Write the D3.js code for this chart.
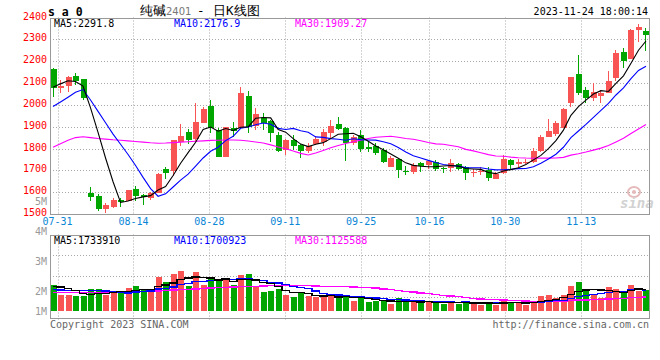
<!DOCTYPE html>
<html><head><meta charset="utf-8">
<script src="https://cdn.jsdelivr.net/npm/d3@7"></script>
<style>
html,body{margin:0;padding:0;background:#fff;}
svg{display:block;}
text{font-family:"DejaVu Sans Mono","Liberation Mono",monospace;}
</style></head><body>
<svg id="chart" width="660" height="360"></svg>
<script>
// ---------------- data ----------------
const dates = ["07-28","07-31",
 "08-01","08-02","08-03","08-04","08-07","08-08","08-09","08-10","08-11",
 "08-14","08-15","08-16","08-17","08-18","08-21","08-22","08-23","08-24","08-25",
 "08-28","08-29","08-30","08-31","09-01","09-04","09-05","09-06","09-07","09-08",
 "09-11","09-12","09-13","09-14","09-15","09-18","09-19","09-20","09-21","09-22",
 "09-25","09-26","09-27","09-28","10-09","10-10","10-11","10-12","10-13",
 "10-16","10-17","10-18","10-19","10-20","10-23","10-24","10-25","10-26","10-27",
 "10-30","10-31","11-01","11-02","11-03","11-06","11-07","11-08","11-09","11-10",
 "11-13","11-14","11-15","11-16","11-17","11-20","11-21","11-22","11-23","11-24"];
const open  = [2164,2079,2088,2132,2118,1597,1582,1524,1532,1562,1561,1615,1587,1572,1598,1704,1697,1829,1877,1842,
 1918,1995,1885,1762,1892,1892,2040,1903,1938,1925,1862,1793,1840,1815,1790,1821,1831,1870,1911,1892,
 1824,1862,1808,1811,1793,1717,1751,1697,1694,1735,1724,1740,1712,1709,1729,1714,1689,1691,1702,1660,
 1686,1747,1729,1732,1740,1790,1854,1868,1896,2008,2140,2068,2033,2042,2056,2124,2243,2210,2345,2338];
const high  = [2170,2114,2132,2146,2120,1625,1590,1550,1572,1572,1612,1628,1590,1602,1689,1717,1840,1913,1888,2007,
 1991,2022,1892,1900,1920,2080,2065,1984,1961,1930,1875,1845,1862,1820,1827,1857,1888,1930,1946,1900,
 1862,1885,1831,1824,1801,1766,1755,1720,1732,1740,1747,1747,1717,1751,1735,1722,1705,1717,1714,1694,
 1770,1751,1751,1751,1801,1862,1934,1928,1984,2129,2228,2083,2099,2068,2155,2251,2262,2348,2370,2350];
const low   = [2037,2052,2060,2093,2022,1561,1514,1505,1529,1534,1558,1558,1542,1566,1595,1660,1675,1811,1820,1836,
 1915,1870,1762,1762,1854,1890,1872,1885,1885,1831,1785,1770,1793,1755,1781,1816,1810,1848,1886,1744,
 1816,1785,1785,1772,1732,1714,1664,1679,1683,1694,1705,1695,1688,1691,1702,1656,1671,1679,1653,1660,
 1683,1705,1717,1727,1735,1785,1851,1857,1892,1991,2045,2007,2016,2007,2053,2107,2167,2208,2290,2245];
const close = [2078,2086,2126,2110,2030,1578,1524,1541,1566,1555,1610,1584,1578,1594,1683,1688,1839,1857,1837,1923,
 1982,1893,1762,1897,1880,2056,1900,1960,1915,1870,1790,1839,1812,1790,1813,1842,1877,1904,1890,1824,
 1853,1800,1798,1781,1740,1755,1702,1693,1724,1720,1744,1705,1705,1735,1708,1689,1693,1696,1663,1683,
 1751,1724,1737,1740,1788,1854,1880,1918,1981,2127,2053,2030,2058,2056,2109,2239,2202,2345,2356,2320];
const volume = [2150000,1340000,1340000,1200000,1200000,1750000,1750000,1340000,1480000,1480000,
 1830000,2070000,1750000,1610000,2750000,2340000,2970000,3240000,2070000,3160000,
 2150000,2750000,2420000,2480000,2150000,2910000,2970000,2070000,1530000,1610000,
 1800000,1340000,1120000,1530000,1200000,1120000,1120000,1200000,1070000,1260000,
 850000,1120000,720000,850000,850000,530000,1020000,720000,720000,660000,
 720000,770000,580000,720000,580000,850000,580000,500000,720000,500000,
 990000,640000,640000,450000,850000,1180000,1260000,1040000,1260000,2070000,
 2370000,1750000,1290000,1020000,1990000,1750000,1480000,2150000,1610000,1670000];
// moving-average values before enough history is visible
const ma5Head  = [2080,2096,2110,2107];
const ma10Head = [1992,2013,2035,2058,2070,2022,1970,1918,1866];
const ma30Head = [1806,1822,1838,1850,1854,1850,1846,1843,1840,1838,1835,1832,1829,1826,1824,1825,1827,1829,1831,1833,
 1835,1837,1838,1839,1839,1838,1834,1830,1825];
const volMa5Head  = [1990000,1950000,1850000,1650000];
const volMa10Head = [1720000,1700000,1680000,1660000,1650000,1660000,1660000,1620000,1550000];
const volMa30Head = [1480000,1480000,1480000,1480000,1480000,1490000,1490000,1500000,1520000,1530000,
 1550000,1570000,1590000,1610000,1630000,1660000,1700000,1730000,1760000,1790000,
 1820000,1860000,1890000,1920000,1950000,1970000,1990000,2010000,2030000];
const priceTicks = [2400,2300,2200,2100,2000,1900,1800,1700,1600,1500];
const volTickLabels = ["5M","4M","3M","2M","1M"];
const volTickValues = [5,4,3,2,1];
const dateTicks = ["07-31","08-14","08-28","09-11","09-25","10-16","10-30","11-13"];
const priceMaText = ["MA5:2291.8","MA10:2176.9","MA30:1909.27"];
const volMaText = ["MA5:1733910","MA10:1700923","MA30:1125588"];
const maColors = ["#000000","#0000ff","#ff00ff"];

// ---------------- helpers ----------------
function movingAvg(arr, n, head){
  return arr.map((v,i)=> i < n-1 ? head[i] : d3.mean(arr.slice(i-n+1,i+1)));
}
const N = dates.length;
const idx = d3.range(N);
const svg = d3.select("#chart");
const P = {l:50, r:649.5, t:17.5, b:214};
const V = {t:234.5, b:318.3};
const RED = "#f85454", GREEN = "#00a600", GRID = "#a8a8a8", BORDER = "#999";

const xBand = d3.scaleBand().domain(idx).range([49.25, 649.75]);
const xc = i => xBand(i) + xBand.bandwidth()/2;
const xGrid = d3.scaleLinear().domain([0, N-1]).range([P.l, P.r]);
const yPrice = d3.scaleLinear().domain([1500,2400]).range([P.b, P.t]);
const yVol = d3.scaleLinear().domain([0, 6200000]).range([311, 234.7]);
const yVolLabel = d3.scaleLinear().domain([1,2,5]).range([311,291,201]);

const tickIdx = dateTicks.map(d => dates.indexOf(d));

// ---------------- price panel ----------------
const gP = svg.append("g");
gP.selectAll("line.hg").data(priceTicks.slice(1,-1)).join("line")
  .attr("x1",P.l).attr("x2",P.r).attr("y1",d=>Math.round(yPrice(d))+0.5).attr("y2",d=>Math.round(yPrice(d))+0.5)
  .attr("stroke",GRID).attr("stroke-dasharray","1,2");
gP.selectAll("line.vg").data(tickIdx).join("line")
  .attr("x1",d=>Math.round(xGrid(d))+0.5).attr("x2",d=>Math.round(xGrid(d))+0.5)
  .attr("y1",P.t).attr("y2",P.b).attr("stroke",GRID).attr("stroke-dasharray","1,2");

// candles
const cw = 6;
const gC = gP.append("g").attr("shape-rendering","crispEdges");
gC.selectAll("line.wick").data(idx).join("line")
  .attr("x1",i=>Math.floor(xc(i))+0.5).attr("x2",i=>Math.floor(xc(i))+0.5)
  .attr("y1",i=>yPrice(high[i])).attr("y2",i=>yPrice(low[i]))
  .attr("stroke",i=> close[i]>=open[i]?RED:GREEN).attr("stroke-width",1);
gC.selectAll("rect.body").data(idx).join("rect")
  .attr("x",i=>Math.floor(xc(i))-cw/2+0.5)
  .attr("width",cw)
  .attr("y",i=>yPrice(Math.max(open[i],close[i])))
  .attr("height",i=>Math.max(1, Math.abs(yPrice(open[i])-yPrice(close[i]))))
  .attr("fill",i=> close[i]>=open[i]?RED:GREEN);

// sina watermark
const wm = gP.append("g");
wm.append("ellipse").attr("cx",634).attr("cy",192).attr("rx",6).attr("ry",5).attr("fill","none").attr("stroke","#e6baba").attr("stroke-width",2);
wm.append("circle").attr("cx",634).attr("cy",192).attr("r",2).attr("fill","#e6baba");
wm.append("text").attr("x",620).attr("y",208).attr("font-family","DejaVu Sans").attr("font-style","italic")
  .attr("font-weight","bold").attr("font-size",14).attr("fill","#d2d2d2").text("sina");

// MA lines price
const pMAs = [movingAvg(close,5,ma5Head), movingAvg(close,10,ma10Head), movingAvg(close,30,ma30Head)];
const lineP = d3.line().x((d,i)=>xc(i)).y(d=>yPrice(d));
[2,1,0].forEach(k=>{
  gP.append("path").datum(pMAs[k]).attr("d",lineP).attr("fill","none")
    .attr("stroke",maColors[k]).attr("stroke-width",1.1);
});

// border
gP.append("rect").attr("x",P.l+0.5).attr("y",Math.round(P.t)+0.5).attr("width",P.r-P.l-0.5).attr("height",P.b-Math.round(P.t))
  .attr("fill","none").attr("stroke",BORDER).attr("shape-rendering","crispEdges");

// price axis labels
svg.selectAll("text.pl").data(priceTicks).join("text")
  .attr("x",47).attr("y",d=>yPrice(d)-1.5).attr("dominant-baseline","central").attr("text-anchor","end")
  .attr("font-size",10).attr("fill","#ff0000").text(d=>d);
// date labels
svg.selectAll("text.dl").data(dateTicks).join("text")
  .attr("x",d=>xGrid(dates.indexOf(d))).attr("y",221).attr("dominant-baseline","central").attr("text-anchor","middle")
  .attr("font-size",10).attr("fill","#0a86d6").text(d=>d);

// MA label texts price
const maX = [54,174,295];
priceMaText.forEach((t,k)=> svg.append("text").attr("x",maX[k]).attr("y",23.5).attr("dominant-baseline","central")
  .attr("font-size",10).attr("fill",maColors[k]).text(t));

// ---------------- volume panel ----------------
const gV = svg.append("g");
const vq = d3.range(1,4).map(k=> V.t + (V.b-V.t)*k/4);
gV.selectAll("line.vh").data(vq).join("line")
  .attr("x1",P.l).attr("x2",P.r).attr("y1",d=>Math.round(d)+0.5).attr("y2",d=>Math.round(d)+0.5)
  .attr("stroke",GRID).attr("stroke-dasharray","1,2");
gV.selectAll("line.vv").data(tickIdx).join("line")
  .attr("x1",d=>Math.round(xGrid(d))+0.5).attr("x2",d=>Math.round(xGrid(d))+0.5)
  .attr("y1",V.t).attr("y2",V.b+3).attr("stroke",GRID).attr("stroke-dasharray","1,2");
gV.append("g").attr("shape-rendering","crispEdges").selectAll("rect").data(idx).join("rect")
  .attr("x",i=>Math.floor(xc(i))-cw/2+0.5).attr("width",cw)
  .attr("y",i=>yVol(volume[i])).attr("height",i=>yVol(0)-yVol(volume[i]))
  .attr("fill",i=> close[i]>=open[i]?RED:GREEN);
const vMAs = [movingAvg(volume,5,volMa5Head), movingAvg(volume,10,volMa10Head), movingAvg(volume,30,volMa30Head)];
const lineV = d3.line().x((d,i)=>xc(i)).y(d=>yVol(d)).curve(d3.curveStep);
[2,1,0].forEach(k=>{
  gV.append("path").datum(vMAs[k]).attr("d",lineV).attr("fill","none")
    .attr("stroke",maColors[k]).attr("stroke-width",1.3).attr("shape-rendering","crispEdges");
});
gV.append("rect").attr("x",P.l+0.5).attr("y",Math.round(V.t)+0.5).attr("width",P.r-P.l-0.5).attr("height",Math.round(V.b)-Math.round(V.t))
  .attr("fill","none").attr("stroke",BORDER).attr("shape-rendering","crispEdges");
volMaText.forEach((t,k)=> svg.append("text").attr("x",maX[k]).attr("y",240).attr("dominant-baseline","central")
  .attr("font-size",10).attr("fill",maColors[k]).text(t));
svg.selectAll("text.vl").data(volTickValues).join("text")
  .attr("x",47).attr("y",d=>yVolLabel(d)).attr("dominant-baseline","central").attr("text-anchor","end")
  .attr("font-size",10).attr("fill","#999").text((d,i)=>volTickLabels[i]);

// ---------------- header / footer ----------------
svg.append("text").attr("x",48).attr("y",16).attr("font-size",11.5).attr("font-weight","bold").attr("fill","#000").text("s a 0");
const title = svg.append("text").attr("y",15).attr("font-family","Noto Sans CJK SC").attr("font-size",12.5).attr("fill","#000");
title.append("tspan").attr("x",140).text("纯碱");
title.append("tspan").attr("x",166).attr("font-family","DejaVu Sans").attr("font-size",10).attr("fill","#777").text("2401");
title.append("tspan").attr("x",197).text("-");
title.append("tspan").attr("x",213).text("日K线图");
svg.append("text").attr("x",648).attr("y",15).attr("text-anchor","end").attr("font-size",10).attr("fill","#000").text("2023-11-24 18:00:14");
svg.append("text").attr("x",50).attr("y",324).attr("dominant-baseline","central").attr("font-size",10).attr("fill","#666").text("Copyright 2023 SINA.COM");
svg.append("text").attr("x",649).attr("y",324).attr("dominant-baseline","central").attr("text-anchor","end").attr("font-size",10).attr("fill","#666").text("http://finance.sina.com.cn");
</script>
</body></html>
